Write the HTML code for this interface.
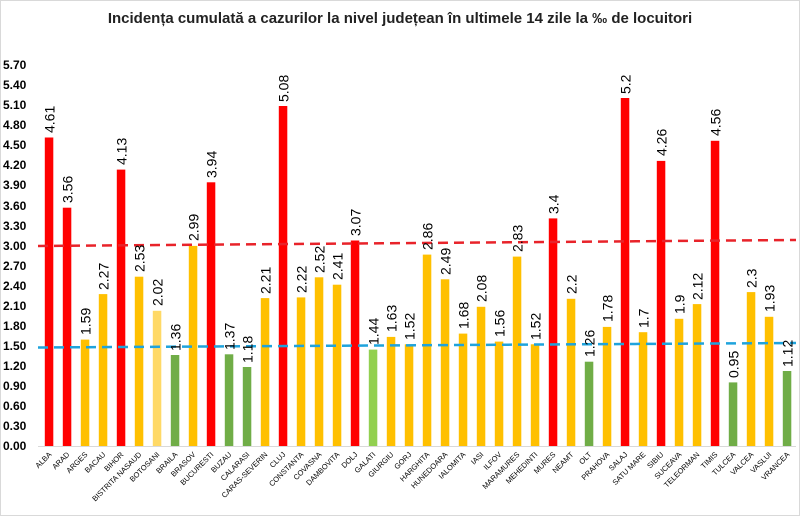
<!DOCTYPE html>
<html><head><meta charset="utf-8"><style>
body{margin:0;background:#fff}
svg{display:block;font-family:"Liberation Sans",sans-serif}
.v{font-size:14px;fill:#000}
.c{font-size:7.5px;fill:#000;text-anchor:end}
.y{font-size:12px;font-weight:bold;fill:#000}
</style></head><body>
<svg width="800" height="516" viewBox="0 0 800 516" xmlns="http://www.w3.org/2000/svg">
<rect x="0.5" y="0.5" width="799" height="515" fill="#fff" stroke="#d9d9d9"/>
<text x="400" y="23" text-anchor="middle" font-size="15" font-weight="bold" fill="#222">Incidența cumulată a cazurilor la nivel județean în ultimele 14 zile la ‰ de locuitori</text>
<g class="y">
<text x="3" y="69">5.70</text><text x="3" y="89">5.40</text><text x="3" y="109">5.10</text><text x="3" y="129">4.80</text><text x="3" y="149">4.50</text><text x="3" y="169">4.20</text><text x="3" y="189">3.90</text><text x="3" y="210">3.60</text><text x="3" y="230">3.30</text><text x="3" y="250">3.00</text><text x="3" y="270">2.70</text><text x="3" y="290">2.40</text><text x="3" y="310">2.10</text><text x="3" y="330">1.80</text><text x="3" y="350">1.50</text><text x="3" y="370">1.20</text><text x="3" y="390">0.90</text><text x="3" y="410">0.60</text><text x="3" y="430">0.30</text><text x="3" y="450">0.00</text>
</g>
<line x1="38" y1="446.5" x2="796" y2="446.5" stroke="#d9d9d9"/>
<g>
<rect x="44.8" y="137.5" width="8.5" height="308.5" fill="#ff0000"/>
<rect x="62.8" y="207.7" width="8.5" height="238.3" fill="#ff0000"/>
<rect x="80.8" y="339.6" width="8.5" height="106.4" fill="#ffc000"/>
<rect x="98.8" y="294.1" width="8.5" height="151.9" fill="#ffc000"/>
<rect x="116.8" y="169.6" width="8.5" height="276.4" fill="#ff0000"/>
<rect x="134.8" y="276.7" width="8.5" height="169.3" fill="#ffc000"/>
<rect x="152.8" y="310.8" width="8.5" height="135.2" fill="#ffd966"/>
<rect x="170.8" y="355.0" width="8.5" height="91.0" fill="#70ad47"/>
<rect x="188.8" y="245.9" width="8.5" height="200.1" fill="#ffc000"/>
<rect x="206.8" y="182.3" width="8.5" height="263.7" fill="#ff0000"/>
<rect x="224.8" y="354.3" width="8.5" height="91.7" fill="#70ad47"/>
<rect x="242.8" y="367.0" width="8.5" height="79.0" fill="#70ad47"/>
<rect x="260.8" y="298.1" width="8.5" height="147.9" fill="#ffc000"/>
<rect x="278.8" y="106.0" width="8.5" height="340.0" fill="#ff0000"/>
<rect x="296.8" y="297.4" width="8.5" height="148.6" fill="#ffc000"/>
<rect x="314.8" y="277.3" width="8.5" height="168.7" fill="#ffc000"/>
<rect x="332.8" y="284.7" width="8.5" height="161.3" fill="#ffc000"/>
<rect x="350.8" y="240.5" width="8.5" height="205.5" fill="#ff0000"/>
<rect x="368.8" y="349.6" width="8.5" height="96.4" fill="#92d050"/>
<rect x="386.8" y="336.9" width="8.5" height="109.1" fill="#ffc000"/>
<rect x="404.8" y="344.3" width="8.5" height="101.7" fill="#ffc000"/>
<rect x="422.8" y="254.6" width="8.5" height="191.4" fill="#ffc000"/>
<rect x="440.8" y="279.3" width="8.5" height="166.7" fill="#ffc000"/>
<rect x="458.8" y="333.6" width="8.5" height="112.4" fill="#ffc000"/>
<rect x="476.8" y="306.8" width="8.5" height="139.2" fill="#ffc000"/>
<rect x="494.8" y="341.6" width="8.5" height="104.4" fill="#ffc000"/>
<rect x="512.8" y="256.6" width="8.5" height="189.4" fill="#ffc000"/>
<rect x="530.8" y="344.3" width="8.5" height="101.7" fill="#ffc000"/>
<rect x="548.8" y="218.4" width="8.5" height="227.6" fill="#ff0000"/>
<rect x="566.8" y="298.8" width="8.5" height="147.2" fill="#ffc000"/>
<rect x="584.8" y="361.7" width="8.5" height="84.3" fill="#70ad47"/>
<rect x="602.8" y="326.9" width="8.5" height="119.1" fill="#ffc000"/>
<rect x="620.8" y="98.0" width="8.5" height="348.0" fill="#ff0000"/>
<rect x="638.8" y="332.2" width="8.5" height="113.8" fill="#ffc000"/>
<rect x="656.8" y="160.9" width="8.5" height="285.1" fill="#ff0000"/>
<rect x="674.8" y="318.8" width="8.5" height="127.2" fill="#ffc000"/>
<rect x="692.8" y="304.1" width="8.5" height="141.9" fill="#ffc000"/>
<rect x="710.8" y="140.8" width="8.5" height="305.2" fill="#ff0000"/>
<rect x="728.8" y="382.4" width="8.5" height="63.6" fill="#70ad47"/>
<rect x="746.8" y="292.1" width="8.5" height="153.9" fill="#ffc000"/>
<rect x="764.8" y="316.8" width="8.5" height="129.2" fill="#ffc000"/>
<rect x="782.8" y="371.0" width="8.5" height="75.0" fill="#70ad47"/>
</g>
<line x1="38" y1="246" x2="796" y2="240" stroke="#e8232a" stroke-width="2.5" stroke-dasharray="10,6"/>
<line x1="38" y1="347.5" x2="796" y2="343" stroke="#1fa3dc" stroke-width="2.5" stroke-dasharray="10,6"/>
<g class="v">
<text transform="translate(54.5,133) rotate(-90)">4.61</text>
<text transform="translate(72.5,203) rotate(-90)">3.56</text>
<text transform="translate(90.5,335) rotate(-90)">1.59</text>
<text transform="translate(108.5,290) rotate(-90)">2.27</text>
<text transform="translate(126.5,165) rotate(-90)">4.13</text>
<text transform="translate(144.5,272) rotate(-90)">2.53</text>
<text transform="translate(162.5,306) rotate(-90)">2.02</text>
<text transform="translate(180.5,351) rotate(-90)">1.36</text>
<text transform="translate(198.5,241) rotate(-90)">2.99</text>
<text transform="translate(216.5,178) rotate(-90)">3.94</text>
<text transform="translate(234.5,350) rotate(-90)">1.37</text>
<text transform="translate(252.5,363) rotate(-90)">1.18</text>
<text transform="translate(270.5,294) rotate(-90)">2.21</text>
<text transform="translate(288.5,102) rotate(-90)">5.08</text>
<text transform="translate(306.5,293) rotate(-90)">2.22</text>
<text transform="translate(324.5,273) rotate(-90)">2.52</text>
<text transform="translate(342.5,280) rotate(-90)">2.41</text>
<text transform="translate(360.5,236) rotate(-90)">3.07</text>
<text transform="translate(378.5,345) rotate(-90)">1.44</text>
<text transform="translate(396.5,332) rotate(-90)">1.63</text>
<text transform="translate(414.5,340) rotate(-90)">1.52</text>
<text transform="translate(432.5,250) rotate(-90)">2.86</text>
<text transform="translate(450.5,275) rotate(-90)">2.49</text>
<text transform="translate(468.5,329) rotate(-90)">1.68</text>
<text transform="translate(486.5,302) rotate(-90)">2.08</text>
<text transform="translate(504.5,337) rotate(-90)">1.56</text>
<text transform="translate(522.5,252) rotate(-90)">2.83</text>
<text transform="translate(540.5,340) rotate(-90)">1.52</text>
<text transform="translate(558.5,214) rotate(-90)">3.4</text>
<text transform="translate(576.5,294) rotate(-90)">2.2</text>
<text transform="translate(594.5,357) rotate(-90)">1.26</text>
<text transform="translate(612.5,322) rotate(-90)">1.78</text>
<text transform="translate(630.5,94) rotate(-90)">5.2</text>
<text transform="translate(648.5,328) rotate(-90)">1.7</text>
<text transform="translate(666.5,156) rotate(-90)">4.26</text>
<text transform="translate(684.5,314) rotate(-90)">1.9</text>
<text transform="translate(702.5,300) rotate(-90)">2.12</text>
<text transform="translate(720.5,136) rotate(-90)">4.56</text>
<text transform="translate(738.5,378) rotate(-90)">0.95</text>
<text transform="translate(756.5,288) rotate(-90)">2.3</text>
<text transform="translate(774.5,312) rotate(-90)">1.93</text>
<text transform="translate(792.5,367) rotate(-90)">1.12</text>
</g>
<g class="c">
<text transform="translate(52,455) rotate(-45)">ALBA</text>
<text transform="translate(70,455) rotate(-45)">ARAD</text>
<text transform="translate(88,455) rotate(-45)">ARGES</text>
<text transform="translate(106,455) rotate(-45)">BACAU</text>
<text transform="translate(124,455) rotate(-45)">BIHOR</text>
<text transform="translate(142,455) rotate(-45)">BISTRITA NASAUD</text>
<text transform="translate(160,455) rotate(-45)">BOTOSANI</text>
<text transform="translate(178,455) rotate(-45)">BRAILA</text>
<text transform="translate(196,455) rotate(-45)">BRASOV</text>
<text transform="translate(214,455) rotate(-45)">BUCURESTI</text>
<text transform="translate(232,455) rotate(-45)">BUZAU</text>
<text transform="translate(250,455) rotate(-45)">CALARASI</text>
<text transform="translate(268,455) rotate(-45)">CARAS-SEVERIN</text>
<text transform="translate(286,455) rotate(-45)">CLUJ</text>
<text transform="translate(304,455) rotate(-45)">CONSTANTA</text>
<text transform="translate(322,455) rotate(-45)">COVASNA</text>
<text transform="translate(340,455) rotate(-45)">DAMBOVITA</text>
<text transform="translate(358,455) rotate(-45)">DOLJ</text>
<text transform="translate(376,455) rotate(-45)">GALATI</text>
<text transform="translate(394,455) rotate(-45)">GIURGIU</text>
<text transform="translate(412,455) rotate(-45)">GORJ</text>
<text transform="translate(430,455) rotate(-45)">HARGHITA</text>
<text transform="translate(448,455) rotate(-45)">HUNEDOARA</text>
<text transform="translate(466,455) rotate(-45)">IALOMITA</text>
<text transform="translate(484,455) rotate(-45)">IASI</text>
<text transform="translate(502,455) rotate(-45)">ILFOV</text>
<text transform="translate(520,455) rotate(-45)">MARAMURES</text>
<text transform="translate(538,455) rotate(-45)">MEHEDINTI</text>
<text transform="translate(556,455) rotate(-45)">MURES</text>
<text transform="translate(574,455) rotate(-45)">NEAMT</text>
<text transform="translate(592,455) rotate(-45)">OLT</text>
<text transform="translate(610,455) rotate(-45)">PRAHOVA</text>
<text transform="translate(628,455) rotate(-45)">SALAJ</text>
<text transform="translate(646,455) rotate(-45)">SATU MARE</text>
<text transform="translate(664,455) rotate(-45)">SIBIU</text>
<text transform="translate(682,455) rotate(-45)">SUCEAVA</text>
<text transform="translate(700,455) rotate(-45)">TELEORMAN</text>
<text transform="translate(718,455) rotate(-45)">TIMIS</text>
<text transform="translate(736,455) rotate(-45)">TULCEA</text>
<text transform="translate(754,455) rotate(-45)">VALCEA</text>
<text transform="translate(772,455) rotate(-45)">VASLUI</text>
<text transform="translate(790,455) rotate(-45)">VRANCEA</text>
</g>
</svg>
</body></html>
